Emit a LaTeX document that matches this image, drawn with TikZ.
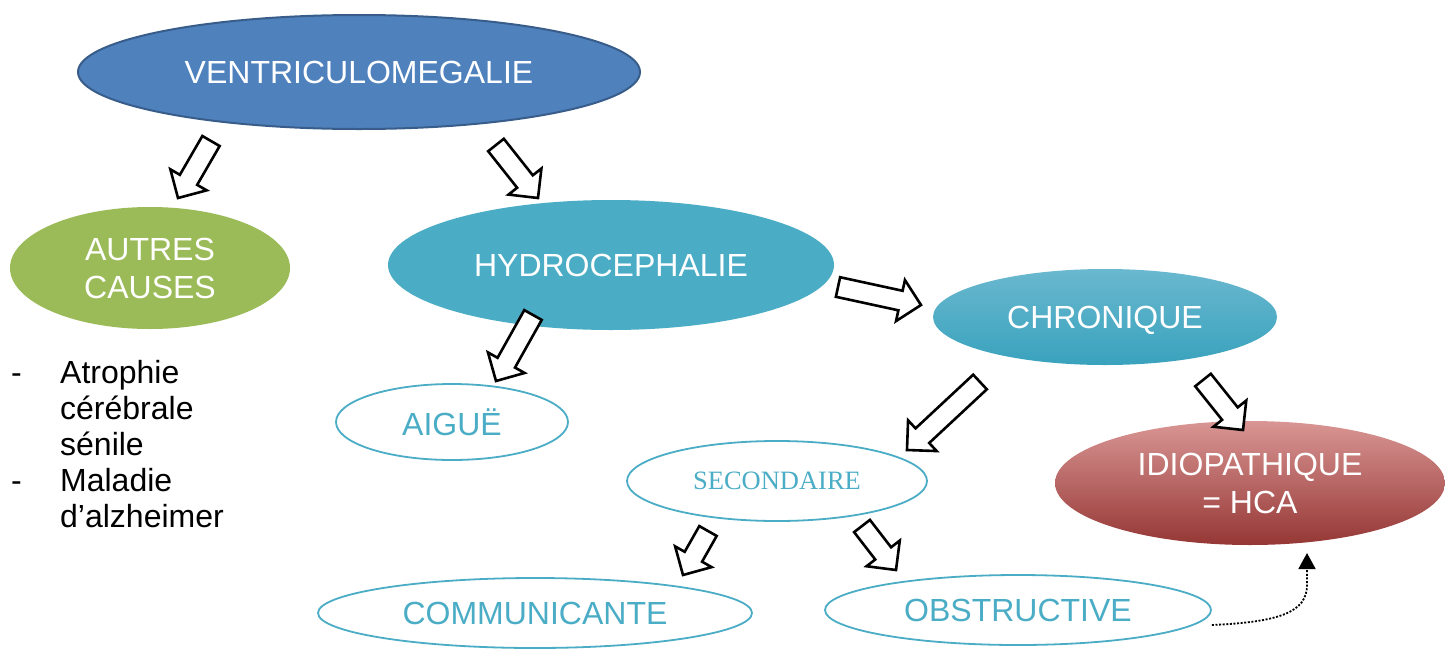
\documentclass[tikz,border=0pt]{standalone}
\usepackage{fontspec}
\setmainfont{Liberation Sans}
\newfontfamily\seriffont{Liberation Serif}
\usetikzlibrary{shapes.geometric,calc,arrows.meta}
\definecolor{ventriblue}{HTML}{4F81BD}
\definecolor{ventriline}{HTML}{385D8A}
\definecolor{causegreen}{HTML}{9BBB59}
\definecolor{hydroteal}{HTML}{4BACC6}
\definecolor{chrontop}{HTML}{6AB8CF}
\definecolor{chronbot}{HTML}{39A2BD}
\definecolor{idiotop}{HTML}{D99694}
\definecolor{idiomid}{HTML}{C0504D}
\definecolor{idiobot}{HTML}{953735}
\tikzset{
  bubble/.style={ellipse,inner sep=0pt,text=white,align=center,text depth=0pt,
    font=\fontsize{32}{38}\selectfont},
  ringbubble/.style={ellipse,inner sep=0pt,draw=hydroteal,line width=1.8pt,
    text=hydroteal,text depth=0pt,font=\fontsize{32}{38}\selectfont},
  fatline/.style={draw=black,line width=2.6pt,fill=white,line join=miter},
  dotline/.style={line width=1.8pt,dash pattern=on 2pt off 1.6pt,
    -{Triangle[width=17pt,length=16pt]}}
}
% block arrow from coordinate #1 to coordinate #2
\newcommand\fatarrow[2]{%
  \coordinate (#1-#2) at ($(#2)!21pt!(#1)$);
  \draw[fatline] ($(#1)!10pt!90:(#2)$) -- ($(#1-#2)!10pt!90:(#2)$)
    -- ($(#1-#2)!21pt!90:(#2)$) -- (#2) -- ($(#1-#2)!21pt!-90:(#2)$)
    -- ($(#1-#2)!10pt!-90:(#2)$) -- ($(#1)!10pt!-90:(#2)$) -- cycle;}
\begin{document}
\begin{tikzpicture}[x=1pt,y=-1pt]
  \useasboundingbox (0,0) rectangle (1445,651);
  \draw
    (359,72) node[bubble,fill=ventriblue,draw=ventriline,line width=2pt,
      minimum width=562,minimum height=114] (ventri) {VENTRICULOMEGALIE}
    (150,268) node[bubble,fill=causegreen,minimum width=280,minimum height=122]
      (autres) {AUTRES\\CAUSES}
    (611,265) node[bubble,fill=hydroteal,minimum width=446,minimum height=130]
      (hydro) {HYDROCEPHALIE}
    (1105,317) node[bubble,top color=chrontop,bottom color=chronbot,
      minimum width=344,minimum height=96] (chron) {CHRONIQUE}
    (1250,483) node[bubble,top color=idiotop,middle color=idiomid,
      bottom color=idiobot,minimum width=390,minimum height=124]
      (idio) {IDIOPATHIQUE\\= HCA}
    (452,422) node[ringbubble,minimum width=232,minimum height=76] (aigue) {AIGUË}
    (777,481) node[ringbubble,minimum width=300,minimum height=80,
      font=\seriffont\fontsize{26.5}{30}\selectfont] (second) {SECONDAIRE}
    (535,613) node[ringbubble,minimum width=434,minimum height=70] (commu) {COMMUNICANTE}
    (1018,610) node[ringbubble,minimum width=386,minimum height=70] (obst) {OBSTRUCTIVE};
  \node[anchor=base west,inner sep=0pt,font=\fontsize{32}{36}\selectfont] (liste) at (11,383)
    {\begin{tabular}[t]{@{}p{49pt}@{}l@{}}
      -&Atrophie\\ &cérébrale\\ &sénile\\ -&Maladie\\ &d’alzheimer
    \end{tabular}};
  % block arrows
  \coordinate (a1) at (211,141); \coordinate (b1) at (178,198);
  \coordinate (a2) at (496,145); \coordinate (b2) at (538,198);
  \coordinate (a3) at (533,315); \coordinate (b3) at (496,381);
  \coordinate (a4) at (838,287); \coordinate (b4) at (921,305);
  \coordinate (a5) at (980,382); \coordinate (b5) at (907,450);
  \coordinate (a6) at (1203,380); \coordinate (b6) at (1243,430);
  \coordinate (a7) at (708,531); \coordinate (b7) at (683,575);
  \coordinate (a8) at (862,526); \coordinate (b8) at (896,570);
  \foreach \i in {1,...,8} {\fatarrow{a\i}{b\i}}
  % dotted link
  \coordinate (dotstart) at ([yshift=-15pt]obst.east);
  \coordinate (dotend) at (1307,553);
  \draw[dotline] (dotstart) .. controls (1280,622) and (1307,612) .. (1307,585) -- (dotend);
\end{tikzpicture}
\end{document}
